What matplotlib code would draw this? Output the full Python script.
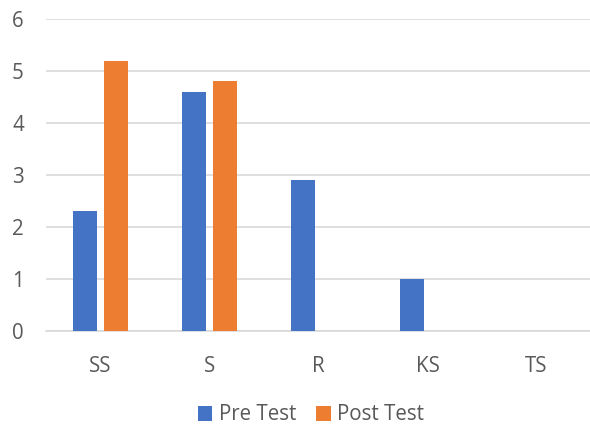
import numpy as np
import matplotlib.pyplot as plt
import matplotlib as mpl

mpl.rcParams['font.family'] = ['Open Sans', 'DejaVu Sans']

categories = ['SS', 'S', 'R', 'KS', 'TS']
pre_test = [2.3, 4.6, 2.9, 1.0, 0]
post_test = [5.2, 4.8, 0, 0, 0]

fig = plt.figure(figsize=(5.9, 4.26), dpi=100)
ax = fig.add_axes([46 / 590, 1 - 331 / 426, 545 / 590, 312 / 426])

x = np.arange(len(categories))
w = 0.225
ax.bar(x - 0.142, pre_test, w, color='#4472C4', label='Pre Test', zorder=3)
ax.bar(x + 0.142, post_test, w, color='#ED7D31', label='Post Test', zorder=3)

ax.set_xlim(-0.5, len(categories) - 0.5)
ax.set_ylim(0, 6)
ax.set_yticks(range(0, 7))
ax.set_xticks(x)
ax.set_xticklabels(categories)
ax.grid(axis='y', color='#D9D9D9', lw=1.2, zorder=0)
for s in ['top', 'right', 'left']:
    ax.spines[s].set_visible(False)
ax.spines['bottom'].set_color('#D9D9D9')
ax.spines['bottom'].set_linewidth(1.2)
ax.tick_params(length=0, labelsize=14.8, colors='#595959')
ax.tick_params(axis='x', pad=18)
ax.tick_params(axis='y', pad=16)

fig.legend(loc='center', bbox_to_anchor=(311 / 590, 1 - 415 / 426), ncol=2, frameon=False,
           fontsize=14.8, labelcolor='#595959', handlelength=0.7, handleheight=0.7,
           handletextpad=0.3, columnspacing=1.0)

fig.savefig('out.png', dpi=100)
